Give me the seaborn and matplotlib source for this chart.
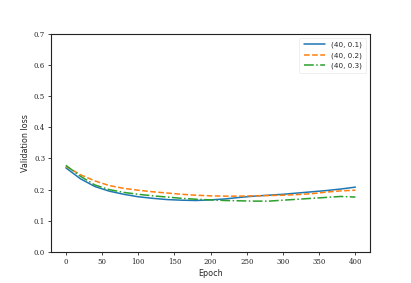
import matplotlib
matplotlib.use("Agg")
import matplotlib.pyplot as plt
import seaborn as sns
import pandas as pd
import numpy as np

epochs = list(range(0, 401, 20))
loss_01 = [0.270, 0.235, 0.210, 0.195, 0.185, 0.177, 0.172, 0.168, 0.166, 0.165, 0.167,
           0.170, 0.175, 0.179, 0.182, 0.185, 0.189, 0.193, 0.197, 0.202, 0.208]
loss_02 = [0.275, 0.248, 0.228, 0.213, 0.204, 0.198, 0.193, 0.189, 0.185, 0.182, 0.180,
           0.179, 0.179, 0.180, 0.181, 0.182, 0.184, 0.187, 0.192, 0.196, 0.198]
loss_03 = [0.278, 0.243, 0.215, 0.200, 0.191, 0.185, 0.180, 0.176, 0.172, 0.169, 0.167,
           0.165, 0.164, 0.163, 0.163, 0.166, 0.169, 0.172, 0.175, 0.178, 0.176]
labels = ["(40, 0.1)", "(40, 0.2)", "(40, 0.3)"]
yticks = [0.0, 0.1, 0.2, 0.3, 0.4, 0.5, 0.6, 0.7]
xticks = [0, 50, 100, 150, 200, 250, 300, 350, 400]

sns.set_style("ticks")
plt.rcParams["font.family"] = ["DejaVu Sans"]

df = pd.DataFrame({
    "Epoch": epochs * 3,
    "loss": loss_01 + loss_02 + loss_03,
    "run": [labels[0]] * len(epochs) + [labels[1]] * len(epochs) + [labels[2]] * len(epochs),
})

fig = plt.figure(figsize=(4.11, 2.83), dpi=100)
ax = fig.add_subplot(111)
fig.subplots_adjust(left=0.125, right=0.9, top=0.88, bottom=0.11)

palette = sns.color_palette("tab10")[:3]
styles = ["-", "--", "-."]
for lab, col, ls in zip(labels, palette, styles):
    sub = df[df["run"] == lab]
    sns.lineplot(data=sub, x="Epoch", y="loss", ax=ax, color=col, linestyle=ls,
                 linewidth=1.1, label=lab)

ax.set_xlim(-20, 420)
ax.set_ylim(0, 0.7)
ax.set_yticks(yticks)
ax.set_xticks(xticks)
ax.set_yticklabels([f"{v:.1f}" for v in yticks], family="DejaVu Serif", fontsize=5)
ax.set_xticklabels([str(v) for v in xticks], family="DejaVu Serif", fontsize=5)
ax.tick_params(length=2.5, width=0.6, pad=2)
ax.set_xlabel("Epoch", fontsize=5.8, labelpad=2)
ax.set_ylabel("Validation loss", fontsize=5.8, labelpad=3)
for s in ax.spines.values():
    s.set_linewidth(0.8)
    s.set_color("#222222")

leg = ax.legend(loc="upper right", fontsize=5.2, frameon=True, handlelength=3,
                borderpad=0.6, labelspacing=0.5)
leg.get_frame().set_linewidth(0.4)
leg.get_frame().set_edgecolor("#dddddd")

fig.savefig("out.png", dpi=100)
